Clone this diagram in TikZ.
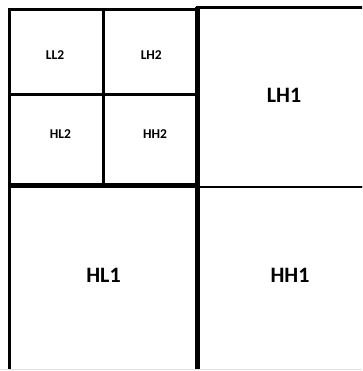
\documentclass[tikz,border=0pt]{standalone}
\usepackage{fontspec}
\setmainfont{Carlito}
\begin{document}
\begin{tikzpicture}[x=1pt,y=-1pt,
  edge/.style={draw=black,line width=3pt},
  heavy/.style={draw=black,line width=4.5pt},
  smalltxt/.style={font=\fontsize{13.5}{14}\selectfont\bfseries,inner sep=0pt},
  bigtxt/.style={font=\fontsize{22}{24}\selectfont\bfseries,inner sep=0pt}]
\useasboundingbox (0,0) rectangle (362,371);
\fill[white] (0,0) rectangle (362,371);
\begin{scope}
\clip (0,0) rectangle (362,369);
% level-1 subbands
\draw[edge,line width=2.6pt] (197.5,7.5) rectangle (370,187);
\draw[edge] (9.5,186) rectangle (197.5,380);
\draw[edge,line width=2.6pt] (197.5,187) rectangle (370,380);
\draw[heavy] (197.5,7.5) -- (197.5,380);
% level-2 block
\draw[edge] (9.5,9.5) rectangle (196,185);
\draw[edge] (103.5,9.5) -- (103.5,185);
\draw[edge] (9.5,94.5) -- (196,94.5);
\draw[draw=black,line width=5pt] (8,185.5) -- (197,185.5);
\end{scope}
\draw[black!12,line width=1pt] (0,369.5) -- (362,369.5);
% labels
\node[smalltxt] (LL2) at (55,55) {LL2};
\node[smalltxt] (LH2) at (151.3,55) {LH2};
\node[smalltxt] (HL2) at (60.5,134) {HL2};
\node[smalltxt] (HH2) at (155,134) {HH2};
\node[bigtxt] (LH1) at (284,95) {LH1};
\node[bigtxt] (HL1) at (103.5,275) {HL1};
\node[bigtxt] (HH1) at (290,275) {HH1};
\end{tikzpicture}
\end{document}
